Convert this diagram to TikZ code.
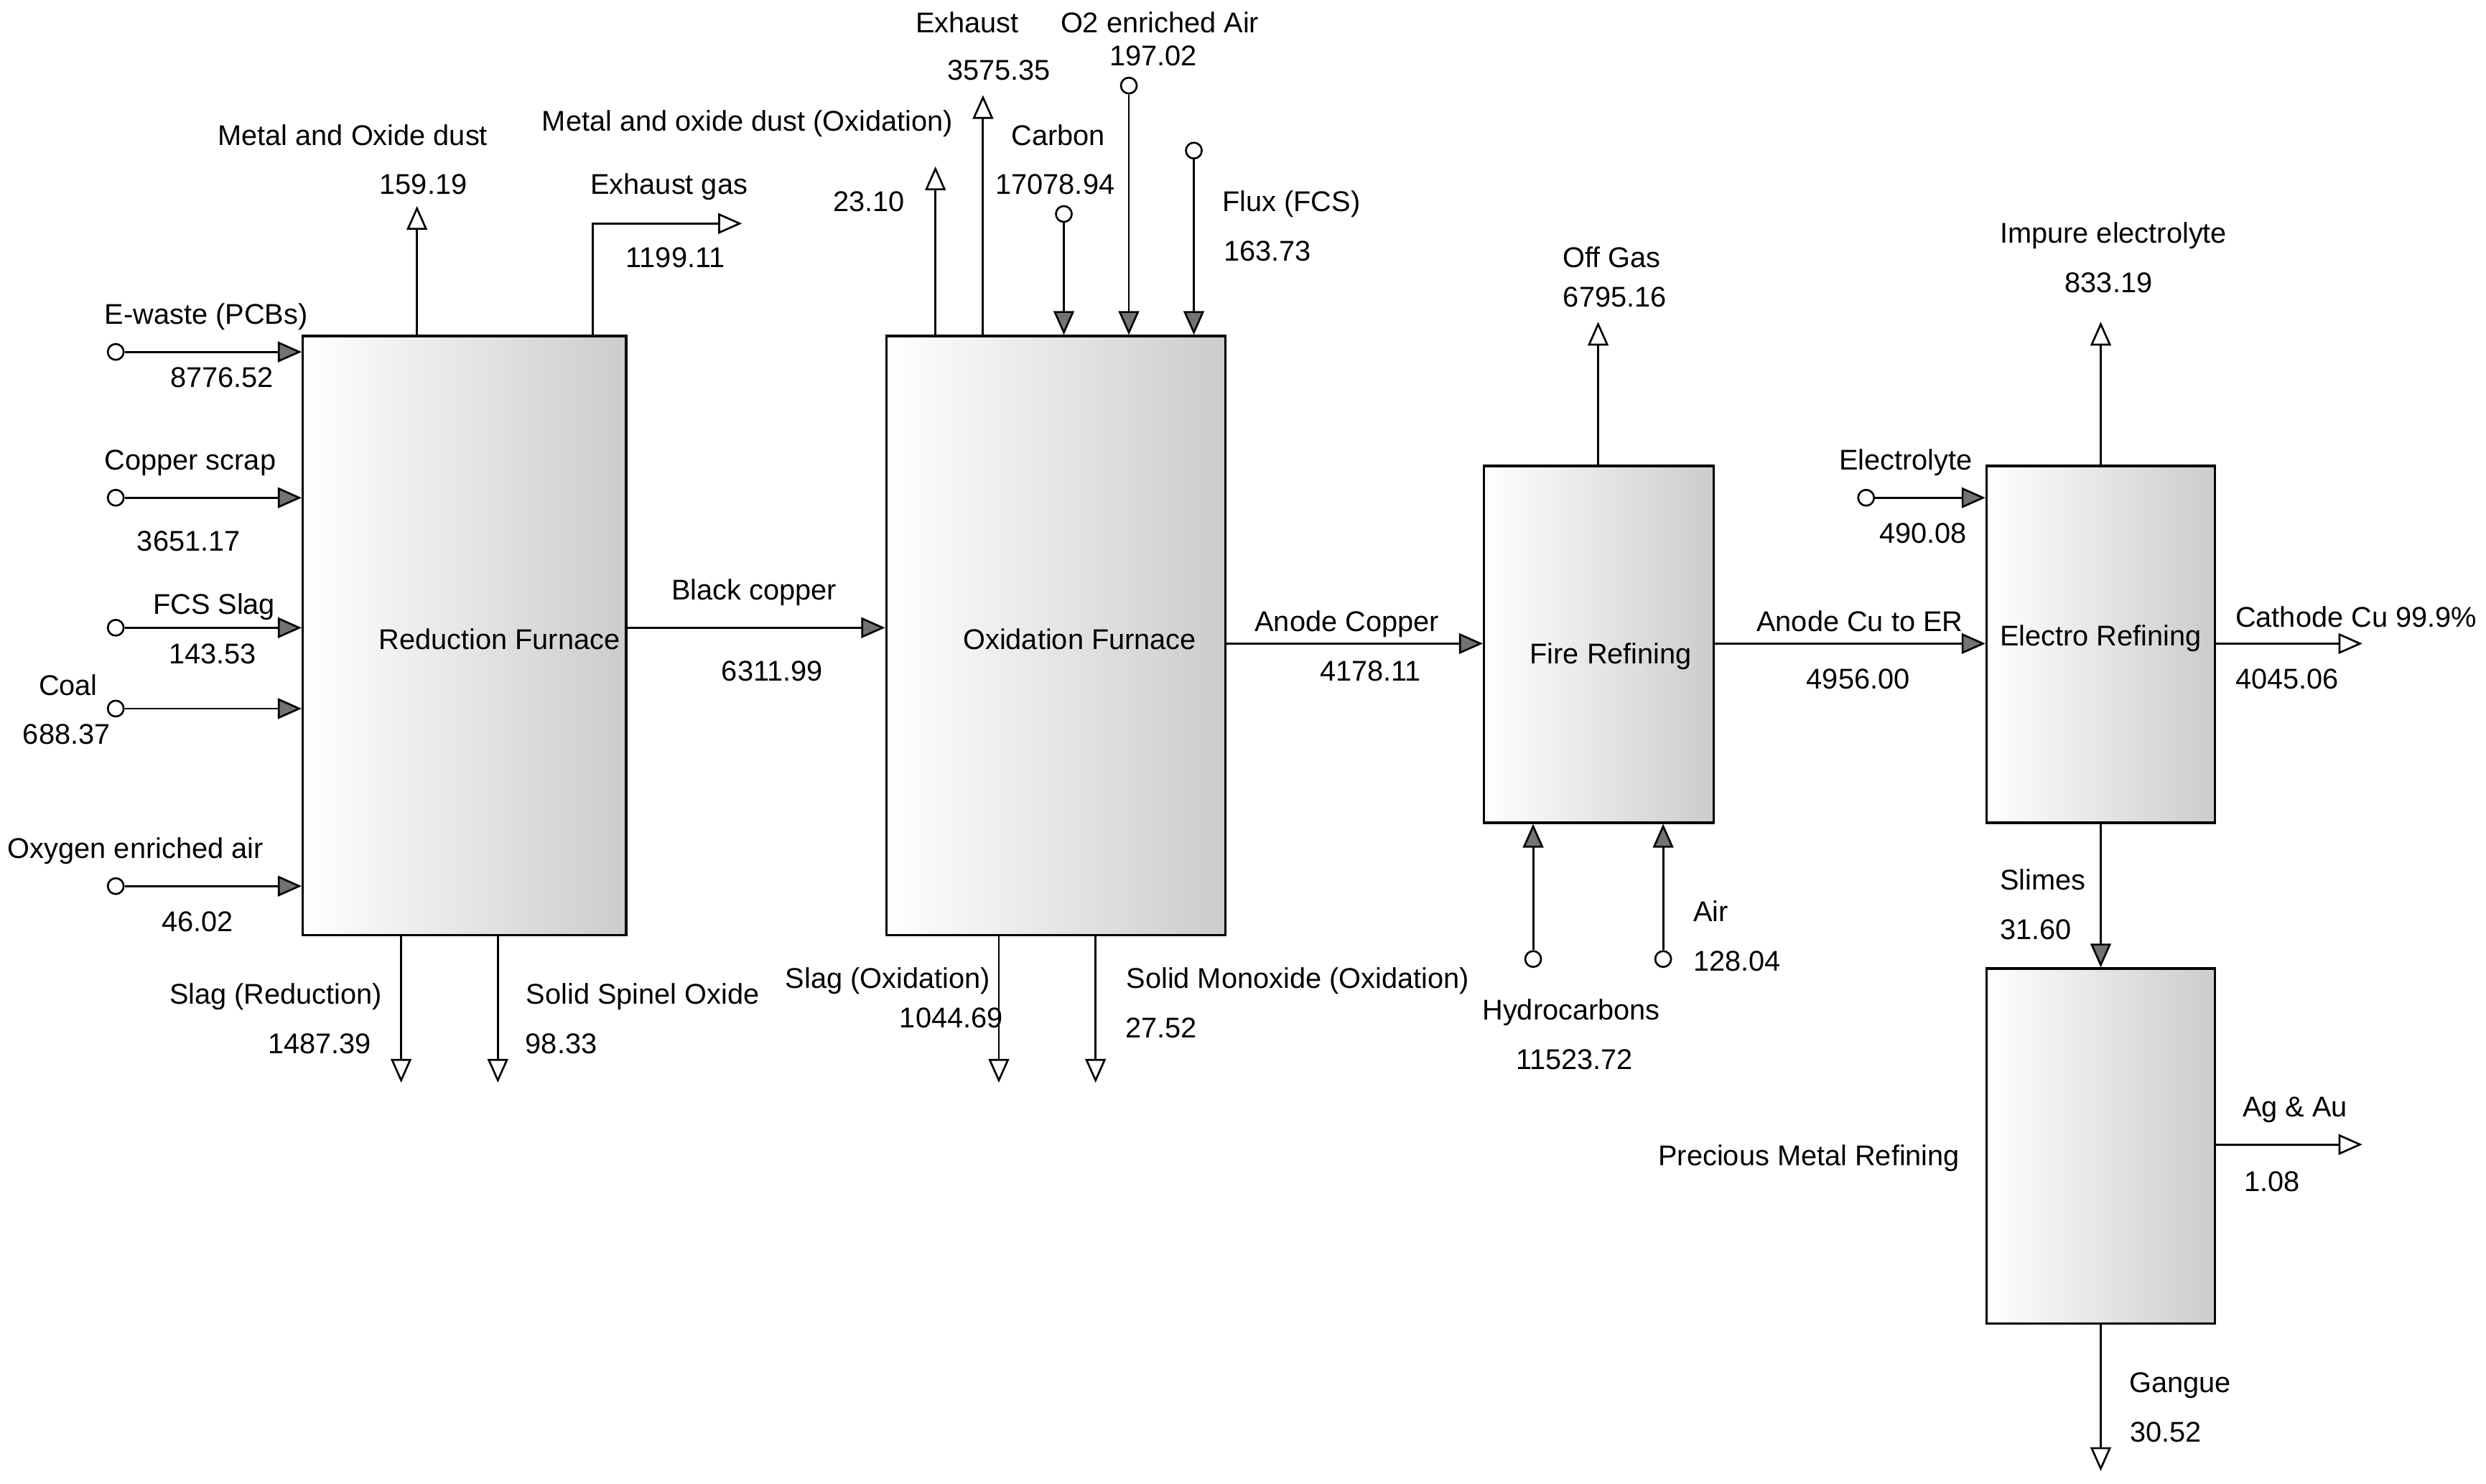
\documentclass[tikz,border=0pt]{standalone}
\usepackage{fontspec}
\setmainfont{Liberation Sans}
\usetikzlibrary{arrows.meta}
\begin{document}
\begin{tikzpicture}[x=1pt,y=-1pt,
  unit/.style={draw, line width=1.5pt, rectangle, inner sep=0pt, left color=white, right color=black!20},
  flow/.style={line width=1.3pt},
  inflow/.style={flow, -{Triangle[length=15pt,width=13pt,fill=black!55,line width=1.2pt]}},
  outflow/.style={flow, -{Triangle[open,length=15pt,width=13pt,fill=white,line width=1.2pt]}},
  src/.style={circle, draw, line width=1.2pt, minimum size=10pt, inner sep=0pt, fill=white},
  t/.style={anchor=base, yshift=-6.5pt, inner sep=0pt, font=\fontsize{18}{21}\selectfont}
]
\useasboundingbox (0,0) rectangle (1568,936);

% ---------- units ----------
\node[unit, minimum width=204pt, minimum height=378pt] (rf) at (293,401) {};
\node[unit, minimum width=214pt, minimum height=378pt] (of) at (666,401) {};
\node[unit, minimum width=145pt, minimum height=225pt] (fr) at (1008.5,406.5) {};
\node[unit, minimum width=144pt, minimum height=225pt] (er) at (1325,406.5) {};
\node[unit, minimum width=144pt, minimum height=224pt] (pm) at (1325,723) {};

\node[t] (rfl) at (315,403) {Reduction Furnace};
\node[t] (ofl) at (681,403) {Oxidation Furnace};
\node[t] (frl) at (1016,412) {Fire Refining};
\node[t] (erl) at (1325,401) {Electro Refining};
\node[t] (pml) at (1141,729) {Precious Metal Refining};

% ---------- Reduction furnace inputs ----------
\node[src] (ew) at (73,222) {};
\node[src] (cs) at (73,314) {};
\node[src] (fcs) at (73,396) {};
\node[src] (coal) at (73,447) {};
\node[src] (oea) at (73,559) {};
\draw[inflow] (ew) -- (ew -| rf.west);
\draw[inflow] (cs) -- (cs -| rf.west);
\draw[inflow] (fcs) -- (fcs -| rf.west);
\draw[inflow] (coal) -- (coal -| rf.west);
\draw[inflow] (oea) -- (oea -| rf.west);

\node[t] (t1) at (130,198) {E-waste (PCBs)};
\node[t] (v1) at (140,238) {8776.52};
\node[t] (t2) at (120,290) {Copper scrap};
\node[t] (v2) at (119,341) {3651.17};
\node[t] (t3) at (135,381) {FCS Slag};
\node[t] (v3) at (134,412) {143.53};
\node[t] (t4) at (43,432) {Coal};
\node[t] (v4) at (42,463) {688.37};
\node[t] (t5) at (85.5,535) {Oxygen enriched air};
\node[t] (v5) at (124.5,581) {46.02};

% ---------- Reduction furnace outputs ----------
\coordinate (mod) at (263,130);
\coordinate (egk) at (374,141);
\coordinate (eg) at (468,141);
\draw[outflow] (rf.north -| mod) -- (mod);
\draw[outflow] (rf.north -| egk) -- (egk) -- (eg);
\node[t] (t6) at (222.5,85) {Metal and Oxide dust};
\node[t] (v6) at (267,116) {159.19};
\node[t] (t7) at (422,116) {Exhaust gas};
\node[t] (v7) at (426,162) {1199.11};

\coordinate (slr) at (253,683);
\coordinate (sso) at (314,683);
\draw[outflow] (rf.south -| slr) -- (slr);
\draw[outflow] (rf.south -| sso) -- (sso);
\node[t] (t8) at (174,627) {Slag (Reduction)};
\node[t] (v8) at (201.5,658) {1487.39};
\node[t] (t9) at (405.5,627) {Solid Spinel Oxide};
\node[t] (v9) at (354,658) {98.33};

% Black copper
\coordinate (bc) at (395,396);
\draw[inflow] (bc) -- (bc -| of.west);
\node[t] (t10) at (475.5,372) {Black copper};
\node[t] (v10) at (487,423) {6311.99};

% ---------- Oxidation furnace top ----------
\coordinate (mox) at (590,105);
\coordinate (exh) at (620,60);
\draw[outflow] (of.north -| mox) -- (mox);
\draw[outflow] (of.north -| exh) -- (exh);
\node[src] (carb) at (671,135) {};
\node[src] (o2) at (712,54) {};
\node[src] (flux) at (753,95) {};
\draw[inflow] (carb) -- (carb |- of.north);
\draw[inflow] (o2) -- (o2 |- of.north);
\draw[inflow] (flux) -- (flux |- of.north);

\node[t] (t11) at (471.5,76) {Metal and oxide dust (Oxidation)};
\node[t] (v11) at (548,127) {23.10};
\node[t] (t12) at (610,14) {Exhaust};
\node[t] (v12) at (630,44) {3575.35};
\node[t] (t13) at (667.5,85) {Carbon};
\node[t] (v13) at (665.5,116) {17078.94};
\node[t] (t14) at (731.5,14) {O2 enriched Air};
\node[t] (v14) at (727.5,35) {197.02};
\node[t] (t15) at (814.5,127) {Flux (FCS)};
\node[t] (v15) at (799.5,158) {163.73};

% ---------- Oxidation furnace bottom ----------
\coordinate (slo) at (630,683);
\coordinate (smo) at (691,683);
\draw[outflow] (of.south -| slo) -- (slo);
\draw[outflow] (of.south -| smo) -- (smo);
\node[t] (t16) at (560,617) {Slag (Oxidation)};
\node[t] (v16) at (600,642) {1044.69};
\node[t] (t17) at (818.5,617) {Solid Monoxide (Oxidation)};
\node[t] (v17) at (732.5,648) {27.52};

% Anode copper
\coordinate (ac) at (773,406);
\draw[inflow] (ac) -- (ac -| fr.west);
\node[t] (t18) at (849.5,392) {Anode Copper};
\node[t] (v18) at (864.5,423) {4178.11};

% ---------- Fire refining ----------
\coordinate (og) at (1008,203);
\draw[outflow] (fr.north -| og) -- (og);
\node[t] (t19) at (1016.5,162) {Off Gas};
\node[t] (v19) at (1018.5,187) {6795.16};
\node[src] (hc) at (967,605) {};
\node[src] (air) at (1049,605) {};
\draw[inflow] (hc) -- (hc |- fr.south);
\draw[inflow] (air) -- (air |- fr.south);
\node[t] (t20) at (991,637) {Hydrocarbons};
\node[t] (v20) at (993,668) {11523.72};
\node[t] (t21) at (1079,575) {Air};
\node[t] (v21) at (1095.5,606) {128.04};

% Anode Cu to ER
\coordinate (acer) at (1081,406);
\draw[inflow] (acer) -- (acer -| er.west);
\node[t] (t22) at (1173,392) {Anode Cu to ER};
\node[t] (v22) at (1172,428) {4956.00};

% ---------- Electro refining ----------
\coordinate (ie) at (1325,203);
\draw[outflow] (er.north) -- (ie);
\node[t] (t23) at (1333,147) {Impure electrolyte};
\node[t] (v23) at (1330,178) {833.19};
\node[src] (el) at (1177,314) {};
\draw[inflow] (el) -- (el -| er.west);
\node[t] (t24) at (1202,290) {Electrolyte};
\node[t] (v24) at (1213,336) {490.08};
\coordinate (cc) at (1490,406);
\draw[outflow] (cc -| er.east) -- (cc);
\node[t] (t25) at (1486,389) {Cathode Cu 99.9\%};
\node[t] (v25) at (1442.5,428) {4045.06};
\draw[inflow] (er.south) -- (pm.north);
\node[t] (t26) at (1288.5,555) {Slimes};
\node[t] (v26) at (1284,586) {31.60};

% ---------- Precious metal refining ----------
\coordinate (ag) at (1490,722);
\draw[outflow] (ag -| pm.east) -- (ag);
\node[t] (t27) at (1447.5,698) {Ag \& Au};
\node[t] (v27) at (1433,745) {1.08};
\coordinate (gg) at (1325,928);
\draw[outflow] (pm.south) -- (gg);
\node[t] (t28) at (1375,872) {Gangue};
\node[t] (v28) at (1366,903) {30.52};
\end{tikzpicture}
\end{document}
